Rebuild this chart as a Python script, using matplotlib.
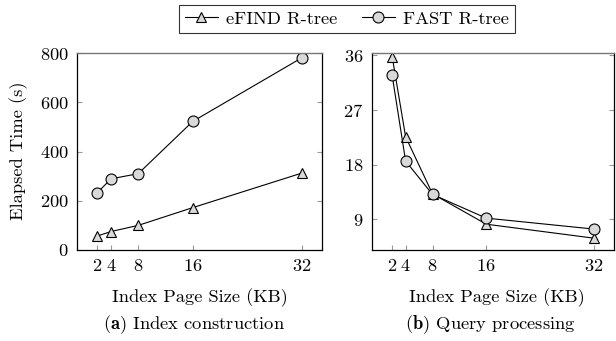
import numpy as np
import matplotlib
matplotlib.use("Agg")
from matplotlib import pyplot as plt

plt.rcParams['font.family'] = 'cmr10'
plt.rcParams['mathtext.fontset'] = 'cm'
plt.rcParams['axes.formatter.use_mathtext'] = True

page_kb = [2, 4, 8, 16, 32]

# (a) index construction, seconds
efind_build = [57, 75, 100, 172, 312]
fast_build = [233, 289, 310, 522, 780]

# (b) query processing, seconds
efind_query = [35.8, 22.6, 13.2, 8.2, 5.9]
fast_query = [32.7, 18.6, 13.1, 9.2, 7.4]

W, H = 616, 341
FS = 13.3
fig = plt.figure(figsize=(W/100, H/100), dpi=100)

ax1 = fig.add_axes([77/W, 1-250/H, 245/W, 197/H])
ax2 = fig.add_axes([372/W, 1-250/H, 242/W, 197/H])

def draw(ax, a, b):
    l1, = ax.plot(page_kb, a, color='black', lw=0.8, marker='^', ms=6.5,
                  mfc='#d9d9d9', mec='black', mew=0.8, label='eFIND R-tree')
    l2, = ax.plot(page_kb, b, color='black', lw=0.8, marker='o', ms=7.9,
                  mfc='#d9d9d9', mec='black', mew=0.8, label='FAST R-tree')
    ax.set_xlim(-1, 35)
    ax.set_xticks(page_kb)
    ax.tick_params(direction='in', length=3.5, color='#999999', labelsize=FS,
                   right=True, top=False, pad=6)
    for s in ['left', 'bottom', 'right']:
        ax.spines[s].set_linewidth(0.9)
    ax.spines['top'].set_color('#777777')
    ax.spines['top'].set_linewidth(1.0)
    return l1, l2

h1, h2 = draw(ax1, efind_build, fast_build)
ax1.set_ylim(0, 800)
ax1.set_yticks([0, 200, 400, 600, 800])

draw(ax2, efind_query, fast_query)
ax2.set_ylim(3.95, 36.4)
ax2.set_yticks([9, 18, 27, 36])

fig.text(19/W, 1-151/H, 'Elapsed Time (s)', rotation=90, ha='center', va='center', fontsize=FS)
fig.text(200/W, 1-298/H, 'Index Page Size (KB)', ha='center', va='center', fontsize=FS)
fig.text(497/W, 1-298/H, 'Index Page Size (KB)', ha='center', va='center', fontsize=FS)
fig.text(194/W, 1-325/H, r'$\mathbf{(a)}$ Index construction', ha='center', va='center', fontsize=FS)
fig.text(490/W, 1-325/H, r'$\mathbf{(b)}$ Query processing', ha='center', va='center', fontsize=FS)

leg = fig.legend([h1, h2], ['eFIND R-tree', 'FAST R-tree'], loc='center',
                 bbox_to_anchor=(347/W, 1-19/H), ncol=2, fontsize=FS,
                 frameon=True, fancybox=False, handlelength=1.8,
                 columnspacing=1.3, handletextpad=0.45, borderpad=0.3,
                 borderaxespad=0)
leg.get_frame().set_edgecolor('black')
leg.get_frame().set_linewidth(0.8)

fig.savefig('out.png', dpi=100)
